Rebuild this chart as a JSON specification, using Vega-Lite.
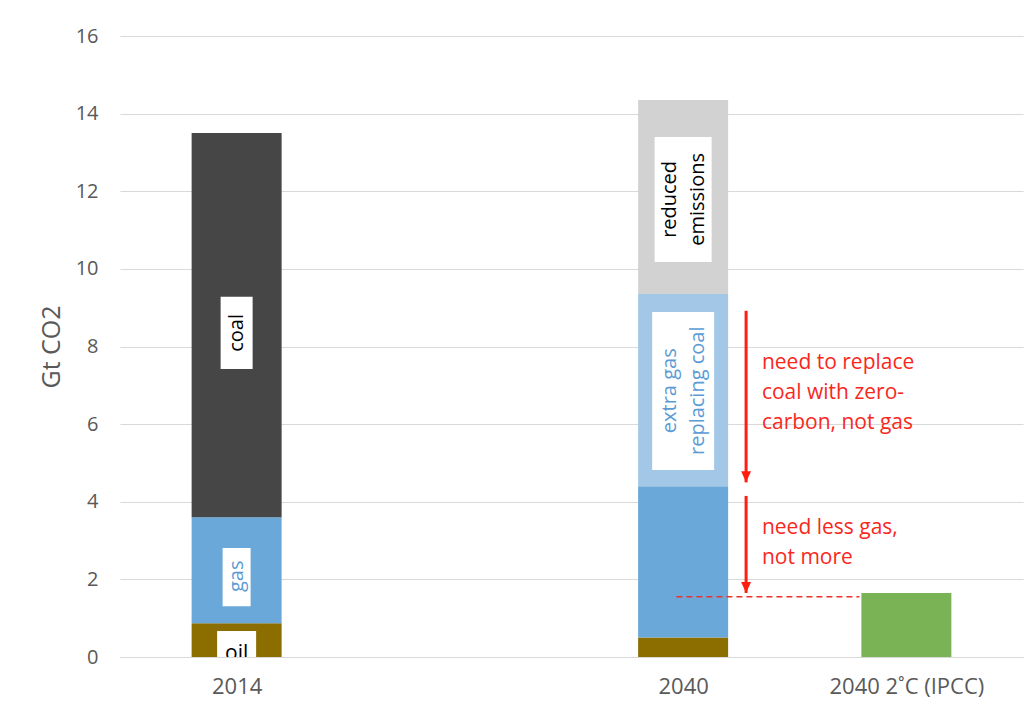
{
  "$schema": "https://vega.github.io/schema/vega-lite/v6.json",
  "autosize": "none",
  "width": 903,
  "height": 621,
  "padding": {"left": 120, "top": 36, "right": 7, "bottom": 53},
  "background": "white",
  "config": {
    "font": "Open Sans",
    "view": {"stroke": null}
  },
  "datasets": {
    "bars": [
      {"x": 0, "segment": "oil", "value": 0.87, "ord": 1},
      {"x": 0, "segment": "gas", "value": 2.73, "ord": 2},
      {"x": 0, "segment": "coal", "value": 9.9, "ord": 3},
      {"x": 2, "segment": "oil", "value": 0.5, "ord": 1},
      {"x": 2, "segment": "gas", "value": 3.9, "ord": 2},
      {"x": 2, "segment": "extra gas replacing coal", "value": 4.95, "ord": 3},
      {"x": 2, "segment": "reduced emissions", "value": 5.0, "ord": 4},
      {"x": 3, "segment": "2°C", "value": 1.65, "ord": 1}
    ],
    "boxes": [
      {"x": 0, "label": "coal", "y0": 7.42, "y1": 9.28},
      {"x": 0, "label": "gas", "y0": 1.31, "y1": 2.81},
      {"x": 0, "label": "oil", "y0": 0, "y1": 0.67},
      {"x": 2, "label": "reduced emissions", "y0": 10.18, "y1": 13.4},
      {"x": 2, "label": "extra gas replacing coal", "y0": 4.82, "y1": 8.89}
    ],
    "labels1": [
      {"x": 0, "y": 8.35, "label": "coal", "text": "coal"},
      {"x": 0, "y": 2.08, "label": "gas", "text": "gas"}
    ],
    "labels2": [
      {"x": 2, "y": 11.79, "label": "reduced emissions", "text": "reduced\nemissions"},
      {"x": 2, "y": 6.86, "label": "extra gas replacing coal", "text": "extra gas\nreplacing coal"}
    ],
    "oil": [
      {"x": 0, "y": -0.08, "text": "oil"}
    ],
    "arrows": [
      {"x": 2.282, "y0": 8.92, "y1": 4.5},
      {"x": 2.282, "y0": 4.15, "y1": 1.65}
    ],
    "dash": [
      {"x0": 1.97, "x1": 2.79, "y": 1.55}
    ],
    "notes": [
      {"x": 2.353, "y": 7.575, "text": "need to replace\ncoal with zero-\ncarbon, not gas"},
      {"x": 2.353, "y": 3.32, "text": "need less gas,\nnot more"}
    ]
  },
  "resolve": {"scale": {"color": "independent", "size": "independent"}},
  "layer": [
    {
      "data": {"name": "bars"},
      "mark": {"type": "bar", "size": 90},
      "encoding": {
        "x": {
          "field": "x", "type": "quantitative",
          "scale": {"domain": [-0.5, 3.5], "nice": false, "zero": false},
          "axis": {
            "values": [0, 2, 3],
            "labelExpr": "datum.value == 0 ? '2014' : datum.value == 2 ? '2040' : '2040 2˚C (IPCC)'",
            "title": null, "grid": false, "ticks": false,
            "domain": true, "domainColor": "#d9d9d9", "domainWidth": 1,
            "labelFontSize": 22, "labelColor": "#595959", "labelPadding": 19
          }
        },
        "y": {
          "field": "value", "type": "quantitative", "stack": "zero",
          "scale": {"domain": [0, 16], "nice": false},
          "axis": {
            "values": [0, 2, 4, 6, 8, 10, 12, 14, 16],
            "title": "Gt CO2", "titleFontSize": 25, "titleColor": "#595959",
            "titleFontWeight": "normal", "titlePadding": 11,
            "grid": true, "gridColor": "#d9d9d9", "gridWidth": 1,
            "ticks": false, "domain": false,
            "labelFontSize": 20, "labelColor": "#595959", "labelPadding": 22
          }
        },
        "color": {
          "field": "segment", "type": "nominal", "legend": null,
          "scale": {
            "domain": ["oil", "gas", "coal", "extra gas replacing coal", "reduced emissions", "2°C"],
            "range": ["#8c6d00", "#6aa8d9", "#464646", "#a3c7e7", "#d2d2d2", "#7ab356"]
          }
        },
        "order": {"field": "ord", "type": "quantitative"}
      }
    },
    {
      "data": {"name": "boxes"},
      "mark": {"type": "bar", "color": "white"},
      "encoding": {
        "x": {"field": "x", "type": "quantitative"},
        "y": {"field": "y0", "type": "quantitative"},
        "y2": {"field": "y1"},
        "size": {
          "field": "label", "type": "nominal", "legend": null,
          "scale": {
            "type": "ordinal",
            "domain": ["coal", "gas", "oil", "reduced emissions", "extra gas replacing coal"],
            "range": [32, 28, 39, 57, 62]
          }
        }
      }
    },
    {
      "data": {"name": "labels1"},
      "mark": {"type": "text", "angle": 270, "align": "center", "baseline": "middle", "fontSize": 20},
      "encoding": {
        "x": {"field": "x", "type": "quantitative"},
        "y": {"field": "y", "type": "quantitative"},
        "text": {"field": "text"},
        "color": {
          "field": "label", "type": "nominal", "legend": null,
          "scale": {"domain": ["coal", "gas"], "range": ["#000000", "#5b9bd5"]}
        }
      }
    },
    {
      "data": {"name": "labels2"},
      "mark": {"type": "text", "angle": 270, "align": "center", "baseline": "middle", "fontSize": 20, "lineBreak": "\n", "lineHeight": 28, "xOffset": -13},
      "encoding": {
        "x": {"field": "x", "type": "quantitative"},
        "y": {"field": "y", "type": "quantitative"},
        "text": {"field": "text"},
        "color": {
          "field": "label", "type": "nominal", "legend": null,
          "scale": {"domain": ["reduced emissions", "extra gas replacing coal"], "range": ["#000000", "#5b9bd5"]}
        }
      }
    },
    {
      "data": {"name": "oil"},
      "mark": {"type": "text", "align": "center", "baseline": "alphabetic", "fontSize": 21, "color": "#000000", "clip": true},
      "encoding": {
        "x": {"field": "x", "type": "quantitative"},
        "y": {"field": "y", "type": "quantitative"},
        "text": {"field": "text"}
      }
    },
    {
      "data": {"name": "arrows"},
      "mark": {"type": "rule", "color": "#ff1e0f", "strokeWidth": 3},
      "encoding": {
        "x": {"field": "x", "type": "quantitative"},
        "y": {"field": "y0", "type": "quantitative"},
        "y2": {"field": "y1"}
      }
    },
    {
      "data": {"name": "arrows"},
      "mark": {"type": "point", "filled": true, "opacity": 1, "color": "#ff1e0f", "size": 484, "shape": "M-0.45,-1L0.45,-1L0,0Z"},
      "encoding": {
        "x": {"field": "x", "type": "quantitative"},
        "y": {"field": "y1", "type": "quantitative"}
      }
    },
    {
      "data": {"name": "dash"},
      "mark": {"type": "rule", "color": "#f0302a", "strokeWidth": 1.5, "strokeDash": [6, 4]},
      "encoding": {
        "x": {"field": "x0", "type": "quantitative"},
        "x2": {"field": "x1"},
        "y": {"field": "y", "type": "quantitative"}
      }
    },
    {
      "data": {"name": "notes"},
      "mark": {"type": "text", "align": "left", "baseline": "middle", "fontSize": 21, "lineBreak": "\n", "lineHeight": 30, "color": "#f8281d"},
      "encoding": {
        "x": {"field": "x", "type": "quantitative"},
        "y": {"field": "y", "type": "quantitative"},
        "text": {"field": "text"}
      }
    }
  ]
}
